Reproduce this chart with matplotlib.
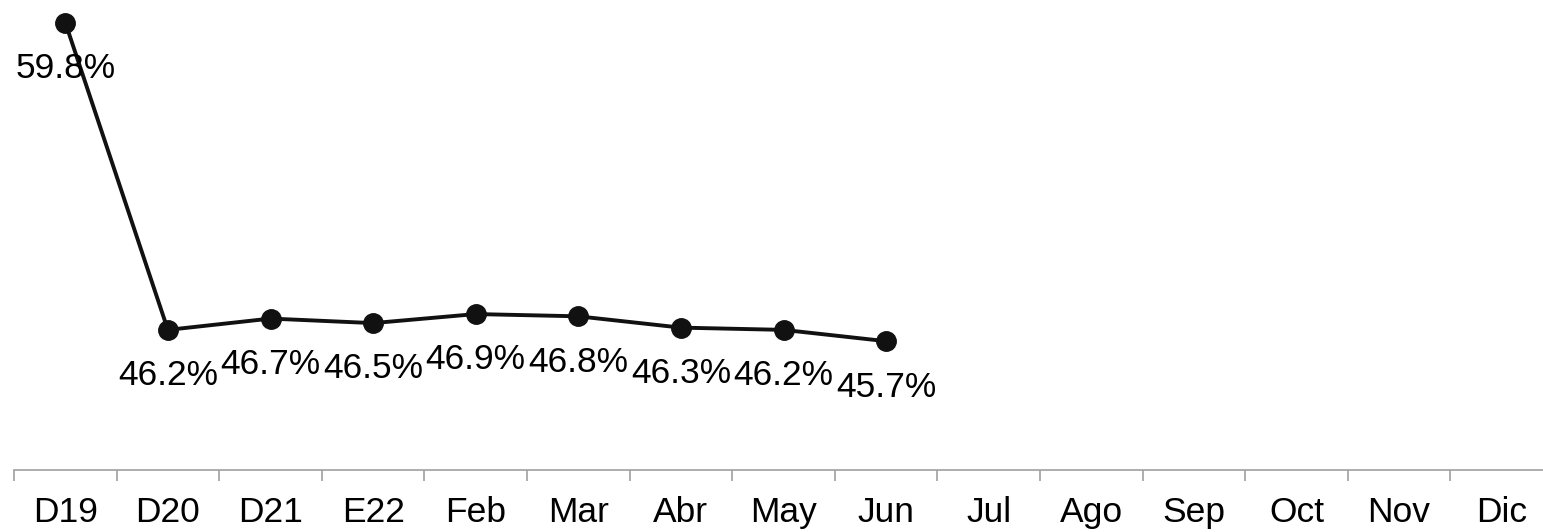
import matplotlib.pyplot as plt

categories = ["D19", "D20", "D21", "E22", "Feb", "Mar", "Abr", "May", "Jun",
              "Jul", "Ago", "Sep", "Oct", "Nov", "Dic"]
values = [59.8, 46.2, 46.7, 46.5, 46.9, 46.8, 46.3, 46.2, 45.7]

plt.rcParams['font.family'] = ['Liberation Sans', 'DejaVu Sans']

fig = plt.figure(figsize=(15.43, 5.32), dpi=100)
ax = fig.add_axes([14 / 1543, 62 / 532, 1539 / 1543, 452 / 532])

x = list(range(len(values)))
ax.plot(x, values, color='#111111', lw=2.8, marker='o', markersize=14,
        zorder=3, clip_on=False)

for xi, v in zip(x, values):
    ax.annotate(f"{v:.1f}%", (xi, v), xytext=(0, -33), textcoords='offset points',
                ha='center', va='center', fontsize=25.5, color='black', zorder=4)

ax.set_xlim(-0.5, len(categories) - 0.5)
ax.set_ylim(40, 60)
ax.set_xticks([i - 0.5 for i in range(len(categories) + 1)], minor=False)
ax.set_xticklabels([])
ax.set_xticks(range(len(categories)), minor=True)
ax.set_xticklabels(categories, minor=True, fontsize=25.5)
ax.tick_params(axis='x', which='major', length=8, color='#a0a0a0', width=1.2)
ax.tick_params(axis='x', which='minor', length=0, pad=19)
ax.set_yticks([])
for s in ['top', 'right', 'left']:
    ax.spines[s].set_visible(False)
ax.spines['bottom'].set_color('#a0a0a0')
ax.spines['bottom'].set_linewidth(1.2)
ax.patch.set_alpha(0)

fig.savefig('out.png', dpi=100)
